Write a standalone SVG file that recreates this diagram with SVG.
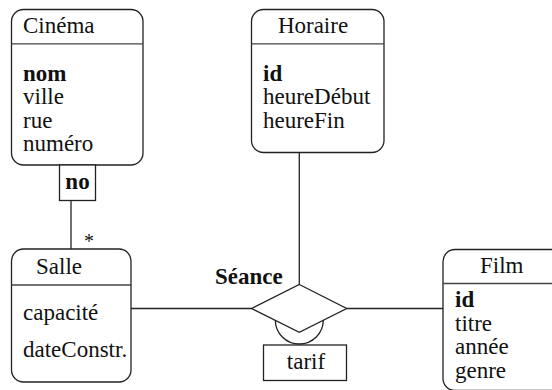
<svg xmlns="http://www.w3.org/2000/svg" width="552" height="390" viewBox="0 0 552 390">
  <style>
    .box { fill: #fff; stroke: #222; stroke-width: 1.3; }
    .sep { stroke: #444; stroke-width: 1.3; }
    .ln { fill: none; stroke: #222; stroke-width: 1.3; }
    .t { font-family: 'Liberation Serif', 'Times New Roman', 'DejaVu Serif', serif; font-size: 23px; fill: #111; }
    .b { font-weight: bold; }
  </style>
  <rect width="552" height="390" fill="#fff"/>

  <!-- connectors -->
  <g id="connectors">
    <line class="ln" x1="71" y1="200.5" x2="71" y2="249"/>
    <text class="t" x="89" y="248" style="font-size:20px" text-anchor="middle">*</text>
    <line class="ln" x1="299.3" y1="152.5" x2="299.3" y2="284.5"/>
    <line class="ln" x1="131" y1="308.5" x2="251.7" y2="308.5"/>
    <line class="ln" x1="346.7" y1="308.5" x2="443" y2="308.5"/>
  </g>

  <!-- Cinéma -->
  <g id="cinema">
    <rect class="box" x="11.5" y="9.5" width="131.5" height="155.5" rx="12"/>
    <line class="sep" x1="11.5" y1="43.8" x2="143" y2="43.8"/>
    <text class="t" x="23" y="33">Cinéma</text>
    <text class="t b" x="23" y="81">nom</text>
    <text class="t" x="23" y="104">ville</text>
    <text class="t" x="23" y="127.5">rue</text>
    <text class="t" x="23" y="151">numéro</text>
  </g>

  <!-- qualifier -->
  <g id="qualifier-no">
    <rect class="box" x="59.5" y="165" width="36" height="35.5"/>
    <text class="t b" x="77.5" y="189" text-anchor="middle">no</text>
  </g>

  <!-- Horaire -->
  <g id="horaire">
    <rect class="box" x="251.5" y="9.5" width="132.5" height="143" rx="12"/>
    <line class="sep" x1="251.5" y1="43.8" x2="384" y2="43.8"/>
    <text class="t" x="313" y="33" text-anchor="middle">Horaire</text>
    <text class="t b" x="263" y="81">id</text>
    <text class="t" x="263" y="104">heureDébut</text>
    <text class="t" x="263" y="127.5">heureFin</text>
  </g>

  <!-- Salle -->
  <g id="salle">
    <rect class="box" x="11.5" y="249" width="119.5" height="133" rx="12"/>
    <line class="sep" x1="11.5" y1="285" x2="131" y2="285"/>
    <text class="t" x="36" y="273.5">Salle</text>
    <text class="t" x="23" y="320">capacité</text>
    <text class="t" x="23" y="357">dateConstr.</text>
  </g>

  <!-- Séance association -->
  <g id="seance">
    <path class="ln" d="M275.3 320 A24 24 0 0 0 323.3 320"/>
    <polygon class="box" points="299.3,284.5 346.7,308.5 299.3,332.3 251.7,308.5"/>
    <text class="t b" x="215" y="283.5">Séance</text>
    <rect class="box" x="263.5" y="345" width="83" height="35.5"/>
    <text class="t" x="306" y="368.5" text-anchor="middle">tarif</text>
  </g>

  <!-- Film -->
  <g id="film">
    <rect class="box" x="443" y="249.5" width="130" height="141" rx="12"/>
    <line class="sep" x1="443" y1="283.5" x2="552" y2="283.5"/>
    <text class="t" x="480" y="273">Film</text>
    <text class="t b" x="455" y="307">id</text>
    <text class="t" x="455" y="330.5">titre</text>
    <text class="t" x="455" y="354">année</text>
    <text class="t" x="455" y="377.5">genre</text>
  </g>
</svg>
